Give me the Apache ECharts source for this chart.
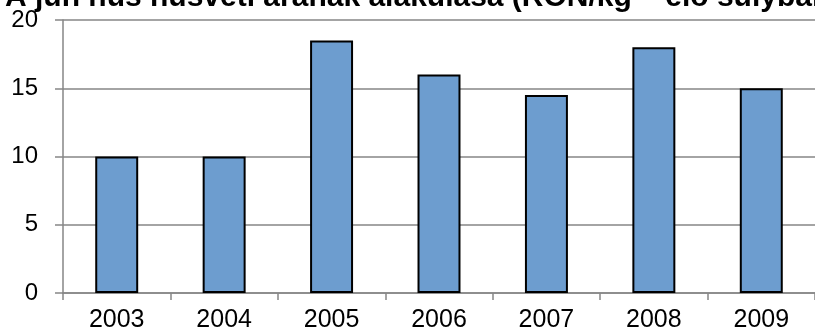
<!DOCTYPE html>
<html>
<head>
<meta charset="utf-8">
<script src="https://cdn.jsdelivr.net/npm/echarts@6/dist/echarts.min.js"></script>
<style>
  html, body { margin: 0; padding: 0; background: #fff; }
  #main { width: 815px; height: 333px; }
</style>
</head>
<body>
<div id="main"></div>
<script>
var titleText = 'A juh hús húsvéti árának alakulása (RON/kg – élő súlyban)';
var years = ['2003', '2004', '2005', '2006', '2007', '2008', '2009'];
var prices = [10, 10, 18.5, 16, 14.5, 18, 15];
var yTicks = [0, 5, 10, 15, 20];

var myChart = echarts.init(document.getElementById('main'));

var option = {
    animation: false,
    title: {
        text: titleText,
        left: 0,
        top: -22,
        textStyle: {
            fontFamily: 'Liberation Sans',
            fontSize: 30,
            fontWeight: 'bold',
            color: '#000'
        }
    },
    grid: {
        left: 63,
        right: -5,
        top: 20,
        bottom: 40
    },
    xAxis: {
        type: 'category',
        data: years,
        axisLine: { lineStyle: { color: '#868686', width: 1.5 } },
        axisTick: { show: true, length: 7, lineStyle: { color: '#868686', width: 1.5 } },
        axisLabel: {
            margin: 15,
            fontFamily: 'Liberation Sans',
            fontSize: 25,
            color: '#000'
        }
    },
    yAxis: {
        type: 'value',
        min: yTicks[0],
        max: yTicks[yTicks.length - 1],
        interval: 5,
        axisLine: { show: true, lineStyle: { color: '#868686', width: 1.5 } },
        axisTick: { show: true, length: 8, lineStyle: { color: '#868686', width: 1.5 } },
        splitLine: { lineStyle: { color: '#868686', width: 1.5 } },
        axisLabel: {
            margin: 25,
            fontFamily: 'Liberation Sans',
            fontSize: 24,
            color: '#000'
        }
    },
    series: [{
        type: 'bar',
        data: prices,
        barWidth: '40%',
        itemStyle: {
            color: '#6d9dcf',
            borderColor: '#000',
            borderWidth: 2
        }
    }]
};

myChart.setOption(option);
</script>
</body>
</html>
